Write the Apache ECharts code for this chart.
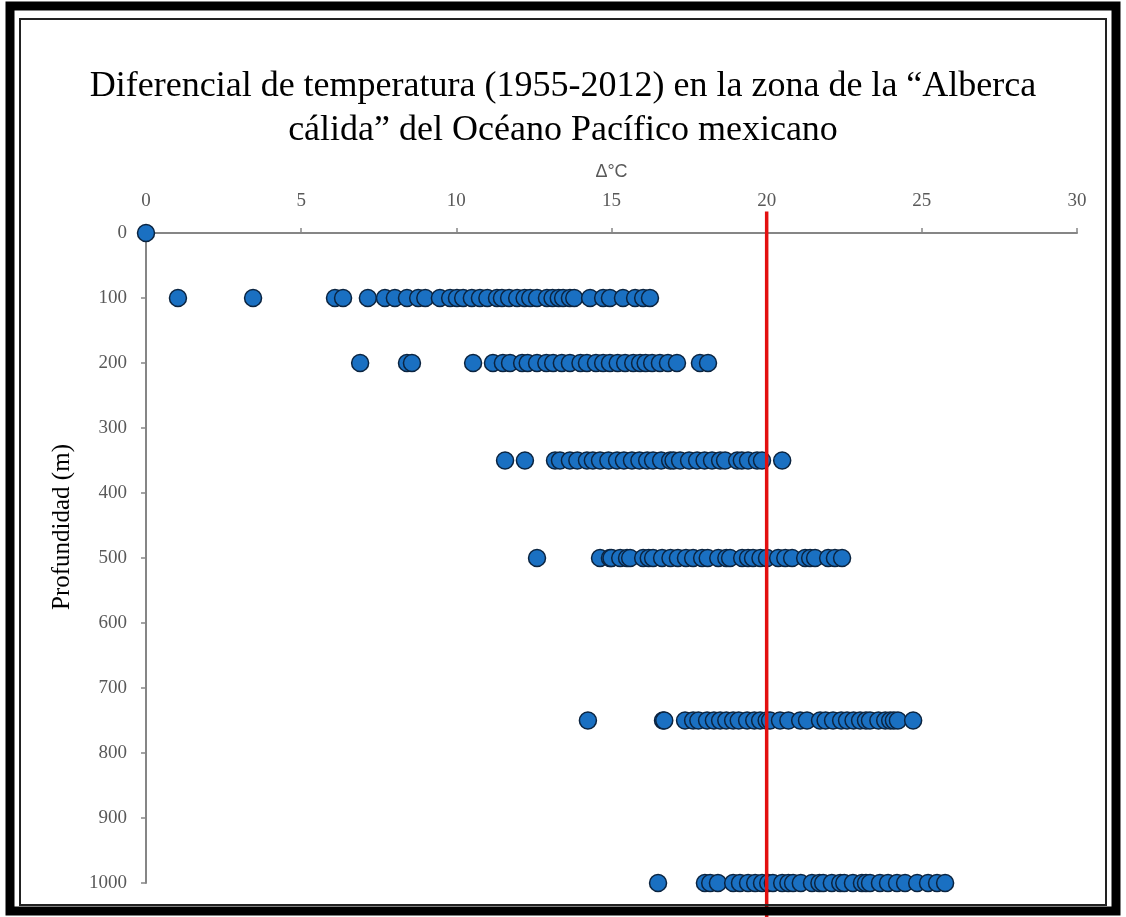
<!DOCTYPE html>
<html>
<head>
<meta charset="utf-8">
<script src="https://cdn.jsdelivr.net/npm/echarts@6/dist/echarts.min.js"></script>
<style>html,body{margin:0;padding:0;background:#fff}#c{width:1126px;height:917px}</style>
</head>
<body>
<div id="c"></div>
<script>
const titleText = 'Diferencial de temperatura (1955-2012) en la zona de la \u201cAlberca\nc\u00e1lida\u201d del Oc\u00e9ano Pac\u00edfico mexicano';
const xName = '\u0394\u00b0C';
const yName = 'Profundidad (m)';
const refLineX = 20;

const depth0 = [0];
const depth100 = [1.03, 3.45, 6.09, 6.35, 7.15, 7.70, 8.02, 8.41, 8.77, 9.0, 9.47, 9.8, 10.02, 10.22, 10.5, 10.76, 11.0, 11.31, 11.47, 11.7, 11.96, 12.2, 12.38, 12.6, 12.92, 13.1, 13.3, 13.44, 13.66, 13.8, 14.31, 14.73, 14.95, 15.37, 15.76, 16.02, 16.24];
const depth200 = [6.90, 8.41, 8.57, 10.54, 11.18, 11.5, 11.73, 12.12, 12.3, 12.60, 12.9, 13.12, 13.4, 13.66, 14.0, 14.21, 14.5, 14.73, 14.95, 15.2, 15.44, 15.7, 15.92, 16.1, 16.31, 16.56, 16.82, 17.11, 17.85, 18.11];
const depth350 = [11.57, 12.21, 13.18, 13.34, 13.66, 13.9, 14.21, 14.4, 14.63, 14.9, 15.18, 15.4, 15.66, 15.9, 16.15, 16.34, 16.6, 16.89, 17.0, 17.21, 17.5, 17.76, 18.0, 18.24, 18.5, 18.66, 19.05, 19.2, 19.40, 19.69, 19.85, 20.50];
const depth500 = [12.60, 14.63, 14.95, 15.0, 15.28, 15.5, 15.60, 16.02, 16.2, 16.34, 16.63, 16.9, 17.14, 17.4, 17.63, 17.92, 18.1, 18.44, 18.7, 18.82, 19.21, 19.4, 19.56, 19.8, 20.01, 20.37, 20.6, 20.82, 21.24, 21.4, 21.56, 21.98, 22.2, 22.43];
const depth750 = [14.24, 16.66, 16.7, 17.37, 17.63, 17.8, 18.08, 18.3, 18.50, 18.7, 18.92, 19.1, 19.37, 19.6, 19.79, 20.0, 20.11, 20.43, 20.7, 21.08, 21.3, 21.72, 21.9, 22.14, 22.4, 22.59, 22.8, 23.01, 23.2, 23.33, 23.6, 23.82, 23.98, 24.1, 24.23, 24.72];
const depth1000 = [16.50, 18.01, 18.18, 18.43, 18.92, 19.14, 19.4, 19.63, 19.85, 20.05, 20.2, 20.50, 20.7, 20.85, 21.1, 21.46, 21.7, 21.82, 22.1, 22.37, 22.5, 22.78, 23.07, 23.2, 23.33, 23.65, 23.91, 24.2, 24.46, 24.85, 25.2, 25.49, 25.75];

const depths = [0, 100, 200, 350, 500, 750, 1000];
const rows = [depth0, depth100, depth200, depth350, depth500, depth750, depth1000];

const points = [];
rows.forEach((r, i) => r.forEach(v => points.push([v, depths[i]])));

const chart = echarts.init(document.getElementById('c'), null, {renderer: 'canvas'});
const axisGray = '#868686';
const labelGray = '#595959';
chart.setOption({
  backgroundColor: '#ffffff',
  animation: false,
  title: {
    text: titleText,
    left: 'center',
    top: 60,
    textStyle: {fontFamily: 'Liberation Serif', fontSize: 36, fontWeight: 'normal', color: '#000', lineHeight: 44}
  },
  grid: {left: 146, right: 49, top: 233, bottom: 34, containLabel: false},
  xAxis: {
    type: 'value', position: 'top', min: 0, max: 30, interval: 5,
    name: xName, nameLocation: 'middle', nameGap: 52,
    nameTextStyle: {fontFamily: 'Liberation Sans', fontSize: 18, color: labelGray},
    axisLine: {show: true, onZero: false, lineStyle: {color: axisGray, width: 2}},
    axisTick: {show: true, length: 5, lineStyle: {color: axisGray, width: 1.5}},
    axisLabel: {margin: 32, fontFamily: 'Liberation Serif', fontSize: 19, color: labelGray, verticalAlign: 'middle'},
    splitLine: {show: false}
  },
  yAxis: {
    type: 'value', inverse: true, min: 0, max: 1000, interval: 100,
    axisLine: {show: true, onZero: false, lineStyle: {color: axisGray, width: 2}},
    axisTick: {show: true, length: 5, lineStyle: {color: axisGray, width: 1.5}},
    axisLabel: {margin: 19, fontFamily: 'Liberation Serif', fontSize: 19, color: labelGray,
                formatter: v => String(v)},
    splitLine: {show: false}
  },
  graphic: [
    {type: 'rect', shape: {x: 10, y: 6, width: 1106, height: 905}, style: {fill: 'none', stroke: '#000', lineWidth: 9}, z: 100},
    {type: 'rect', shape: {x: 20, y: 19, width: 1086, height: 886}, style: {fill: 'none', stroke: '#222', lineWidth: 2}, z: 100},
    {type: 'text', x: 62, y: 527, rotation: Math.PI / 2,
     style: {text: yName, fontFamily: 'Liberation Serif', fontSize: 25, fill: '#000', align: 'center', verticalAlign: 'middle'}}
  ],
  series: [
    {
      type: 'scatter', data: points, symbol: 'circle', symbolSize: 17,
      itemStyle: {color: '#1a70c2', borderColor: '#0b2440', borderWidth: 1.5, opacity: 1},
      z: 2
    },
    {
      type: 'line', data: [[refLineX, -33], [refLineX, 1056]], clip: false,
      symbol: 'none', lineStyle: {color: '#e31010', width: 3.5}, z: 5
    }
  ]
});
</script>
</body>
</html>
